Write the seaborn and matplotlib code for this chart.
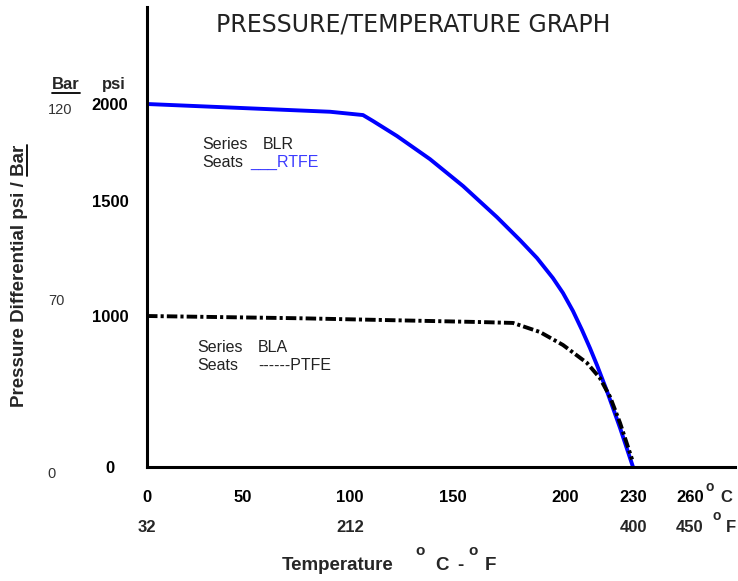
import numpy as np
import pandas as pd
import matplotlib
matplotlib.use("Agg")
import matplotlib.pyplot as plt
import seaborn as sns
from matplotlib.lines import Line2D

# ---------------- data ----------------
temp_c_ticks = [0, 50, 100, 150, 200, 230, 260]
temp_f_labels = ["32", "212", "400", "450"]
temp_f_pos_c = [0, 100, 230, 260]
psi_ticks = [0, 1000, 1500, 2000]
bar_labels = ["0", "70", "120"]

blr_t = [0, 90.7, 106.3, 111.2, 122.8, 138.8, 154.5, 169.6, 179.9, 187.5, 194.6,
         199.1, 203.5, 207.5, 211.0, 214.1, 218.5, 224.3, 230]
blr_psi = [2000, 1960, 1943, 1912, 1835, 1716, 1577, 1430, 1330, 1252, 1165,
           1100, 1022, 907, 788, 675, 503, 258, 0]

bla_t = [0, 76.6, 162.1, 176.8, 188.8, 199.1, 209.7, 215.4, 219.9, 224.3, 229.6]
bla_psi = [1000, 985, 960, 954, 894, 808, 689, 589, 464, 291, 50]

df_blr = pd.DataFrame({"t": blr_t, "psi": blr_psi})
df_bla = pd.DataFrame({"t": bla_t, "psi": bla_psi})

# ---------------- non-uniform axis scales (as drawn in the original) ----------------
X_ANCH = np.array([0, 50, 100, 150, 200, 230, 260])
X_PIX = np.array([0, 96, 203, 306, 418, 486, 543])
Y_ANCH = np.array([0, 1000, 1500, 2000])
Y_PIX = np.array([0, 151, 266, 363])


def make_pw(xs, ys):
    sl = (ys[1] - ys[0]) / (xs[1] - xs[0])
    sh = (ys[-1] - ys[-2]) / (xs[-1] - xs[-2])

    def f(v):
        v = np.asarray(v, dtype=float)
        return np.where(v < xs[0], ys[0] + (v - xs[0]) * sl,
                        np.where(v > xs[-1], ys[-1] + (v - xs[-1]) * sh,
                                 np.interp(v, xs, ys)))
    return f


xf, xi = make_pw(X_ANCH, X_PIX), make_pw(X_PIX, X_ANCH)
yf, yi = make_pw(Y_ANCH, Y_PIX), make_pw(Y_PIX, Y_ANCH)

# ---------------- figure ----------------
sns.set_style("white")
plt.rcParams["font.family"] = ["Liberation Sans", "DejaVu Sans"]

W, H = 738, 581
fig = plt.figure(figsize=(W / 100, H / 100), dpi=100)
fig.patch.set_facecolor("white")


def fx(x):
    return x / W


def fy(y):
    return 1 - y / H


ax = fig.add_axes([147 / W, (H - 467) / H, (735 - 147) / W, (467 - 7) / H])

sns.lineplot(data=df_blr, x="t", y="psi", ax=ax, color="#0000ff", lw=2.8,
             sort=False, estimator=None)
sns.lineplot(data=df_bla, x="t", y="psi", ax=ax, color="black", lw=2.8,
             sort=False, estimator=None, linestyle=(0, (2.7, 0.8, 0.8, 0.8)))
for ln in ax.lines:
    ln.set_solid_joinstyle("round")

ax.set_xscale("function", functions=(xf, xi))
ax.set_yscale("function", functions=(yf, yi))
ax.set_xlim(0, float(xi(588)))
ax.set_ylim(0, float(yi(460)))

ax.set_xlabel("")
ax.set_ylabel("")
for s in ["top", "right"]:
    ax.spines[s].set_visible(False)
for s in ["left", "bottom"]:
    ax.spines[s].set_linewidth(2.2)
    ax.spines[s].set_color("black")
ax.grid(False)

ax.set_xticks(temp_c_ticks, labels=[str(v) for v in temp_c_ticks],
              fontweight="bold", fontsize=12)
ax.set_yticks(psi_ticks, labels=[str(v) for v in psi_ticks],
              fontweight="bold", fontsize=12)
ax.tick_params(axis="x", length=0, pad=16.5, colors="black")
ax.tick_params(axis="y", length=0, pad=26.6, colors="black")
plt.setp(ax.get_yticklabels(), ha="center")

txt = dict(color="#222222", va="baseline", ha="left")

# Fahrenheit row and unit marks
for lab, pos in zip(temp_f_labels, temp_f_pos_c):
    ax.annotate(lab, xy=(pos, 0), xycoords=("data", "axes fraction"),
                xytext=(0, -65 * 0.72), textcoords="offset points",
                ha="center", va="baseline", fontsize=12, fontweight="bold")
fig.text(fx(710), fy(491), "o", fontsize=10, fontweight="bold", ha="center", va="baseline")
fig.text(fx(726.5), fy(502), "C", fontsize=12, fontweight="bold", ha="center", va="baseline")
fig.text(fx(717), fy(520), "o", fontsize=10, fontweight="bold", ha="center", va="baseline")
fig.text(fx(731), fy(532), "F", fontsize=12, fontweight="bold", ha="center", va="baseline")

# Bar column
fig.text(fx(60), fy(114), bar_labels[2], fontsize=10.5, ha="center", va="baseline", color="#333333")
fig.text(fx(56), fy(305), bar_labels[1], fontsize=10.5, ha="center", va="baseline", color="#333333")
fig.text(fx(52), fy(478), bar_labels[0], fontsize=10.5, ha="center", va="baseline", color="#333333")

# column headers
hb = fig.text(fx(66), fy(89), "Bar", fontsize=12, fontweight="bold", ha="center", va="baseline")
fig.text(fx(114), fy(89), "psi", fontsize=12, fontweight="bold", ha="center", va="baseline")

# title
fig.text(fx(413), fy(31.5), "PRESSURE/TEMPERATURE GRAPH", ha="center", va="baseline",
         fontsize=17, family="DejaVu Sans", color="#222222")

# series annotations
fig.text(fx(202), fy(149), "Series", fontsize=11.5, **txt)
fig.text(fx(263), fy(149), "BLR", fontsize=11.5, **txt)
fig.text(fx(202), fy(167), "Seats", fontsize=11.5, **txt)
fig.text(fx(250), fy(167), "___RTFE", fontsize=11.5, color="#3c3cff", ha="left", va="baseline")

fig.text(fx(197), fy(352), "Series", fontsize=11.5, **txt)
fig.text(fx(258), fy(352), "BLA", fontsize=11.5, **txt)
fig.text(fx(197), fy(370), "Seats", fontsize=11.5, **txt)
fig.text(fx(258), fy(370), "------PTFE", fontsize=11.5, **txt)

# axis labels
fig.text(fx(338), fy(570), "Temperature", fontsize=13.5, fontweight="bold",
         ha="center", va="baseline")
fig.text(fx(420), fy(555), "o", fontsize=11, fontweight="bold", ha="center", va="baseline")
fig.text(fx(442), fy(570), "C", fontsize=13.5, fontweight="bold", ha="center", va="baseline")
fig.text(fx(460), fy(570), "-", fontsize=13.5, fontweight="bold", ha="center", va="baseline")
fig.text(fx(473), fy(555), "o", fontsize=11, fontweight="bold", ha="center", va="baseline")
fig.text(fx(490), fy(570), "F", fontsize=13.5, fontweight="bold", ha="center", va="baseline")

ylab = fig.text(fx(24), fy(276), "Pressure Differential psi / Bar", fontsize=13.5,
                fontweight="bold", rotation=90, rotation_mode="anchor",
                ha="center", va="baseline")

# underlines for "Bar"
fig.canvas.draw()
r = fig.canvas.get_renderer()
bb = hb.get_window_extent(r)
fig.add_artist(Line2D([bb.x0 / W, bb.x1 / W], [(bb.y0 - 0.5) / H, (bb.y0 - 0.5) / H],
                      transform=fig.transFigure, color="black", lw=1.3))
tmp = fig.text(0, 0, "Bar", fontsize=13.5, fontweight="bold")
wbar = tmp.get_window_extent(r).width
tmp.remove()
yb = ylab.get_window_extent(r)
fig.add_artist(Line2D([26.5 / W, 26.5 / W], [(yb.y1 - wbar) / H, yb.y1 / H],
                      transform=fig.transFigure, color="black", lw=1.3))

fig.savefig("out.png", dpi=100, facecolor="white")
